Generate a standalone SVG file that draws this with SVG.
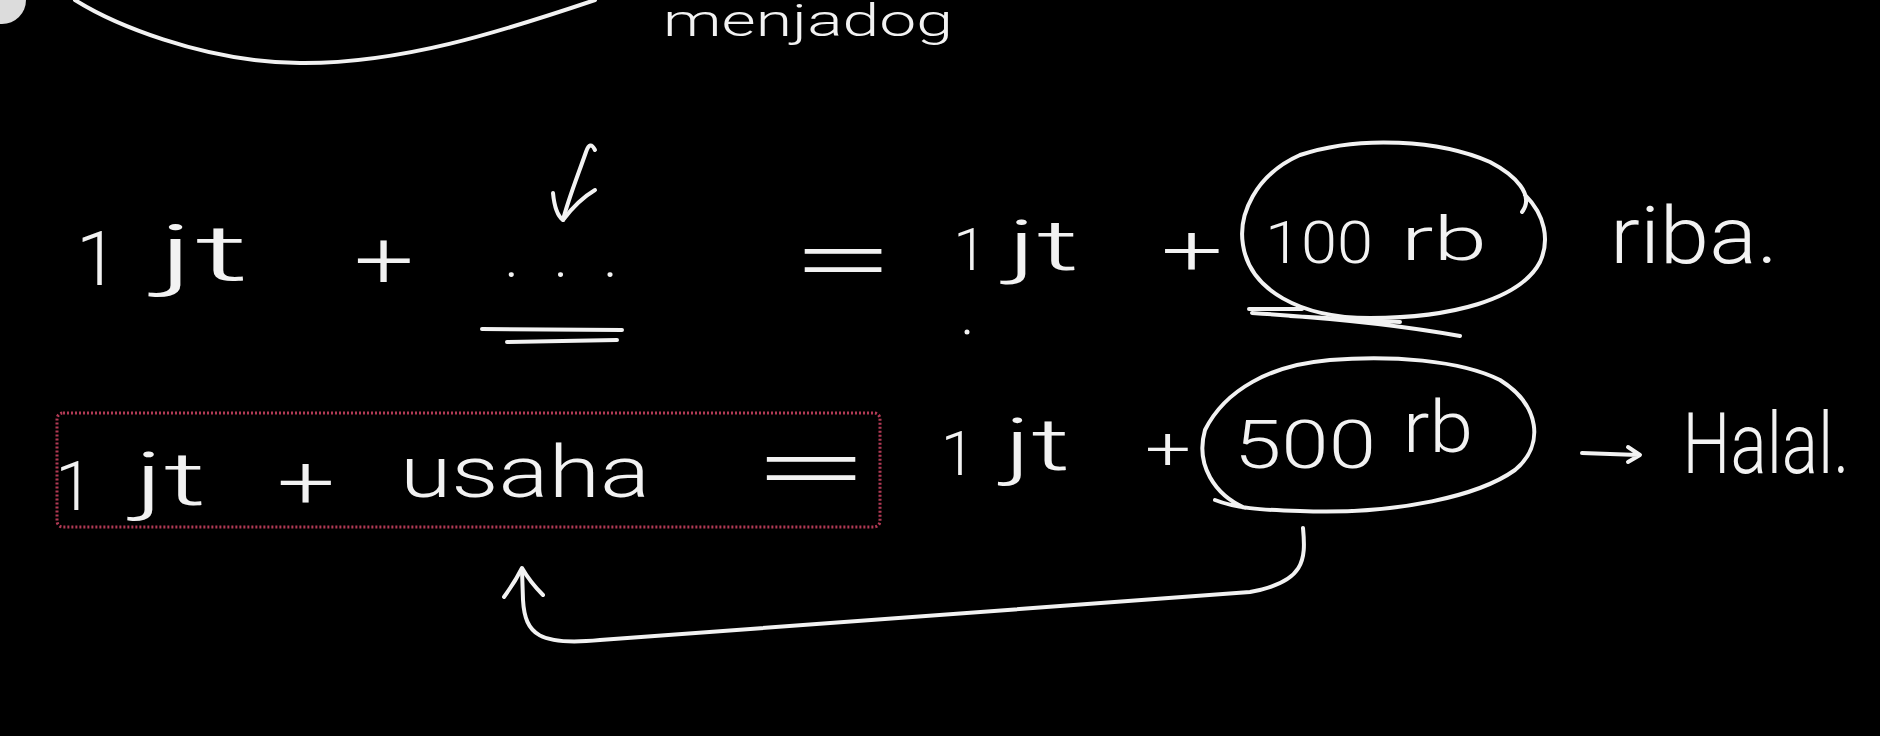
<svg xmlns="http://www.w3.org/2000/svg" width="1880" height="736" viewBox="0 0 1880 736">
<style>
.t{fill:#f2f2f2;font-family:Roboto,"Liberation Sans",sans-serif;font-weight:300;text-anchor:middle}
.s{fill:none;stroke:#f2f2f2;stroke-width:4;stroke-linecap:round;stroke-linejoin:round}
.box{fill:none;stroke:#b23a55;stroke-width:3;stroke-dasharray:2 2}
</style>
<rect width="1880" height="736" fill="#000"/>
<g id="top">
<circle cx="2" cy="0" r="24" fill="#dcdcdc"/>
<path class="s" d="M75,0 C110,22 200,62 300,63 C400,64 500,32 595,0"/>
<text class="t" x="808" y="36" font-size="44" textLength="290" lengthAdjust="spacingAndGlyphs">menjadog</text>
</g>
<g id="row1-left">
<text class="t" x="97" y="285" font-size="76">1</text>
<text class="t" x="203" y="280" font-size="78" textLength="92" lengthAdjust="spacingAndGlyphs">jt</text>
<text class="t" x="384" y="288" font-size="80" textLength="60" lengthAdjust="spacingAndGlyphs">+</text>
<text class="t" x="561" y="277" font-size="60" textLength="113" lengthAdjust="spacing">...</text>
<path class="s" d="M595,150 Q590,140 586,152 C578,175 568,200 563,220"/>
<path class="s" d="M553,193 Q555,214 563,220 Q578,200 595,190"/>
<path class="s" d="M482,329 L622,330 M507,342 L617,340"/>
</g>
<g id="eq1">
<text class="t" x="843" y="291" font-size="90" textLength="104" lengthAdjust="spacingAndGlyphs">=</text>
</g>
<g id="row1-right">
<text class="t" x="970" y="270" font-size="60">1</text>
<circle cx="967" cy="332" r="2.5" fill="#f2f2f2"/>
<text class="t" x="1043" y="270" font-size="70" textLength="72" lengthAdjust="spacingAndGlyphs">jt</text>
<text class="t" x="1192" y="275" font-size="70" textLength="62" lengthAdjust="spacingAndGlyphs">+</text>
</g>
<g id="circle-100rb">
<path class="s" d="M1522,212 C1535,195 1515,175 1490,162 C1440,140 1360,135 1300,155 C1255,175 1238,215 1243,245 C1250,290 1300,318 1370,318 C1450,318 1520,300 1540,262 C1550,240 1545,215 1525,195"/>
<text class="t" x="1319" y="263" font-size="60" textLength="108" lengthAdjust="spacingAndGlyphs">100</text>
<text class="t" x="1444" y="260" font-size="62" textLength="86" lengthAdjust="spacingAndGlyphs">rb</text>
<path class="s" d="M1249,309 L1302,309 M1252,313 C1330,318 1400,325 1460,336 M1290,316 L1400,322"/>
</g>
<g id="riba">
<text class="t" x="1694" y="263" font-size="80" textLength="168" lengthAdjust="spacingAndGlyphs">riba.</text>
</g>
<g id="box-usaha">
<rect class="box" x="57" y="413" width="823" height="114" rx="6"/>
<text class="t" x="74" y="510" font-size="68">1</text>
<text class="t" x="170" y="505" font-size="75" textLength="72" lengthAdjust="spacingAndGlyphs">jt</text>
<text class="t" x="306" y="508" font-size="75" textLength="58" lengthAdjust="spacingAndGlyphs">+</text>
<text class="t" x="525" y="497" font-size="72" textLength="250" lengthAdjust="spacingAndGlyphs">usaha</text>
<text class="t" x="811" y="499" font-size="90" textLength="120" lengthAdjust="spacingAndGlyphs">=</text>
</g>
<g id="row2-right">
<text class="t" x="958" y="475" font-size="62">1</text>
<text class="t" x="1037" y="470" font-size="72" textLength="66" lengthAdjust="spacingAndGlyphs">jt</text>
<text class="t" x="1168" y="469" font-size="60" textLength="46" lengthAdjust="spacingAndGlyphs">+</text>
</g>
<g id="circle-500rb">
<path class="s" d="M1215,500 C1235,508 1260,510 1300,511 C1400,515 1480,495 1515,470 C1545,445 1540,405 1500,380 C1460,360 1390,355 1330,360 C1270,365 1225,390 1205,430 C1195,465 1215,495 1245,508"/>
<text class="t" x="1305" y="468" font-size="66" textLength="142" lengthAdjust="spacingAndGlyphs">500</text>
<text class="t" x="1438" y="452" font-size="72" textLength="70" lengthAdjust="spacingAndGlyphs">rb</text>
</g>
<g id="halal">
<text class="t" x="1766" y="473" font-size="86" textLength="167" lengthAdjust="spacingAndGlyphs">Halal.</text>
</g>
<g id="connectors">
<path class="s" d="M1582,453 L1638,455 M1628,447 L1640,455 L1628,462"/>
<path class="s" d="M1303,528 C1306,560 1305,582 1250,592 L600,640 C540,646 525,635 523,600 L522,570"/>
<path class="s" d="M504,597 Q515,582 522,568 Q530,582 543,595"/>
</g>
</svg>
